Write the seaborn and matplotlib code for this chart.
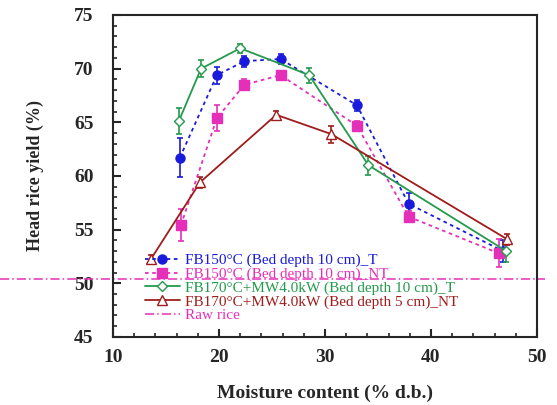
import numpy as np
import pandas as pd
import seaborn as sns
import matplotlib.pyplot as plt
from matplotlib.ticker import MultipleLocator

# data
fb150_t_x = [16.3, 19.8, 22.4, 25.8, 33.0, 37.9, 46.8]
fb150_t_y = [61.7, 69.4, 70.7, 70.9, 66.6, 57.4, 53.0]
fb150_t_e = [1.8, 0.8, 0.5, 0.5, 0.5, 1.0, 1.0]

fb150_nt_x = [16.4, 19.8, 22.4, 25.8, 33.0, 37.9, 46.4]
fb150_nt_y = [55.4, 65.4, 68.5, 69.4, 64.7, 56.2, 52.8]
fb150_nt_e = [1.5, 1.2, 0.5, 0.4, 0.4, 0.5, 1.3]

mw_t_x = [16.2, 18.3, 22.0, 28.5, 34.1, 47.1]
mw_t_y = [65.1, 70.0, 71.9, 69.4, 61.0, 53.0]
mw_t_e = [1.2, 0.8, 0.4, 0.7, 0.9, 1.0]

mw_nt_x = [13.6, 18.2, 25.4, 30.6, 47.2]
mw_nt_y = [52.3, 59.4, 65.7, 63.9, 54.1]
mw_nt_e = [0.3, 0.5, 0.4, 0.8, 0.5]

raw_rice = 50.4

series = [
    ("FB150\u00b0C (Bed depth 10 cm)_T", fb150_t_x, fb150_t_y, fb150_t_e, "#1a1adc", "o", (0, (2, 2)), True),
    ("FB150\u00b0C (Bed depth 10 cm)_NT", fb150_nt_x, fb150_nt_y, fb150_nt_e, "#e62fb8", "s", (0, (2, 2)), True),
    ("FB170\u00b0C+MW4.0kW (Bed depth 10 cm)_T", mw_t_x, mw_t_y, mw_t_e, "#239a4c", "D", "-", False),
    ("FB170\u00b0C+MW4.0kW (Bed depth 5 cm)_NT", mw_nt_x, mw_nt_y, mw_nt_e, "#a01c1c", "^", "-", False),
]

sns.set_style("ticks")
plt.rcParams['font.family'] = ['Liberation Serif', 'DejaVu Serif']

fig = plt.figure(figsize=(5.57, 4.05), dpi=100)
ax = fig.add_axes([0.203, 0.168, 0.761, 0.795])

for label, x, y, e, col, mk, ls, filled in series:
    df = pd.DataFrame({"x": x, "y": y})
    ax.errorbar(x, y, yerr=e, fmt="none", ecolor=col, elinewidth=1.2, capsize=2.5, capthick=1.2, zorder=2)
    sns.lineplot(data=df, x="x", y="y", ax=ax, color=col, linestyle=ls, linewidth=1.3,
                 marker=mk, markersize=6.5 if mk != "D" else 5.5,
                 markerfacecolor=col if filled else "white", markeredgecolor=col,
                 markeredgewidth=1.0, label=label, zorder=3, sort=False)

ax.axhline(raw_rice, xmin=-0.267, xmax=1.02, color="#e62fb8", linestyle=(0, (6, 2, 1, 2)),
           linewidth=1.1, clip_on=False, label="Raw rice")

ax.set_xlim(10, 50)
ax.set_ylim(45, 75)
ax.xaxis.set_major_locator(MultipleLocator(10))
ax.xaxis.set_minor_locator(MultipleLocator(2))
ax.yaxis.set_major_locator(MultipleLocator(5))
ax.yaxis.set_minor_locator(MultipleLocator(1))
ax.tick_params(which="major", direction="in", length=6, width=1.5, labelsize=14)
ax.tick_params(axis="x", which="major", pad=9)
ax.tick_params(axis="y", which="major", pad=14)
ax.tick_params(which="minor", direction="in", length=3, width=1.2)
for lab in ax.get_xticklabels() + ax.get_yticklabels():
    lab.set_fontweight("bold")
for sp in ax.spines.values():
    sp.set_visible(True)
    sp.set_linewidth(1.5)

ax.set_xlabel("Moisture content (% d.b.)", fontsize=14, fontweight="bold", labelpad=13)
ax.set_ylabel("Head rice yield (%)", fontsize=13, fontweight="bold", labelpad=22)

leg = ax.legend(loc="lower left", bbox_to_anchor=(0.075, 0.045), frameon=False, fontsize=11,
                handlelength=2.3, handletextpad=0.3, labelspacing=0.0, borderaxespad=0,
                borderpad=0, labelcolor="linecolor")

fig.savefig("out.png", dpi=100)
